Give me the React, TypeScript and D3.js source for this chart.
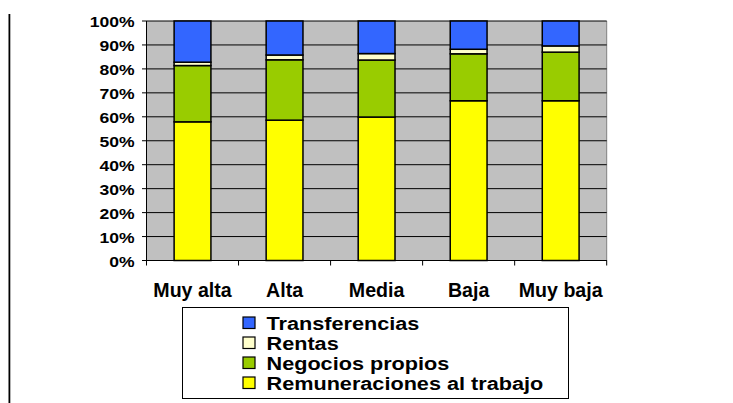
import React from "react";
import * as d3 from "d3";

const categories = ["Muy alta", "Alta", "Media", "Baja", "Muy baja"];
const remuneraciones = [57.9, 58.6, 59.9, 66.7, 66.7];
const negocios = [23.5, 25.2, 23.8, 19.6, 20.3];
const rentas = [1.4, 2.0, 2.7, 1.9, 2.6];
const transferencias = [17.2, 14.2, 13.6, 11.8, 10.4];
const seriesNames = ["Remuneraciones al trabajo", "Negocios propios", "Rentas", "Transferencias"];
const seriesColors = ["#FFFF00", "#99CC00", "#FFFFCC", "#3366FF"];
const yTicks = [0, 10, 20, 30, 40, 50, 60, 70, 80, 90, 100];

export default function App() {
  const W = 733, H = 403;
  const left = 146.5, right = 606.7, top = 21, bottom = 260.5;
  const x = d3.scaleBand<string>().domain(categories).range([left, right]).paddingInner(0.6).paddingOuter(0.3);
  const xb = d3.scaleBand<string>().domain(categories).range([left, right]);
  const y = d3.scaleLinear().domain([0, 100]).range([bottom, top]);
  const rows = categories.map((c, i) => ({
    cat: c,
    s0: remuneraciones[i], s1: negocios[i], s2: rentas[i], s3: transferencias[i],
  }));
  const stack = d3.stack<any>().keys(["s0", "s1", "s2", "s3"]);
  const stacked = stack(rows);
  const font = "Liberation Sans, Arial, sans-serif";
  const legendOrder = [3, 2, 1, 0];
  return (
    <svg width={W} height={H} style={{ position: "absolute", left: 0, top: 0, background: "#fff" }}>
      <rect x={8.5} y={14} width={1.8} height={H - 14} fill="#000" />
      <rect x={left} y={top} width={right - left} height={bottom - top} fill="#C0C0C0" />
      <line x1={right} x2={right} y1={top} y2={bottom} stroke="#808080" strokeWidth={1} />
      {yTicks.map((t) => (
        <g key={t}>
          <line x1={left - 4.5} x2={right} y1={y(t)} y2={y(t)} stroke="#000" strokeWidth={1} />
          <text
            transform={`translate(134.5,${y(t) + 6}) scale(1.17,1)`}
            textAnchor="end"
            fontFamily={font}
            fontWeight="bold"
            fontSize={15}
          >
            {t}%
          </text>
        </g>
      ))}
      <line x1={left} x2={left} y1={top} y2={bottom} stroke="#000" strokeWidth={1} />
      <line x1={left} x2={right} y1={bottom} y2={bottom} stroke="#000" strokeWidth={1.2} />
      {categories.map((c, i) => (
        <line key={"tk" + i} x1={xb(c)!} x2={xb(c)!} y1={bottom} y2={bottom + 5} stroke="#000" />
      ))}
      <line x1={right} x2={right} y1={bottom} y2={bottom + 5} stroke="#000" />
      {stacked.map((s, si) =>
        s.map((d, i) => (
          <rect
            key={si + "-" + i}
            x={x(categories[i])!}
            width={x.bandwidth()}
            y={y(d[1])}
            height={y(d[0]) - y(d[1])}
            fill={seriesColors[si]}
            stroke="#000"
            strokeWidth={1.5}
          />
        ))
      )}
      {categories.map((c) => (
        <text key={c} x={xb(c)! + xb.bandwidth() / 2} y={296.7} textAnchor="middle" fontFamily={font} fontWeight="bold" fontSize={19.6}>
          {c}
        </text>
      ))}
      <rect x={182.5} y={307.5} width={386} height={91} fill="#fff" stroke="#000" strokeWidth={1} />
      {legendOrder.map((si, k) => (
        <g key={si}>
          <rect x={243} y={317 + k * 20} width={12} height={11.5} fill={seriesColors[si]} stroke="#000" strokeWidth={1.2} />
          <text
            transform={`translate(266.5,${329.5 + k * 20}) scale(1.14,1)`}
            fontFamily={font}
            fontWeight="bold"
            fontSize={19}
          >
            {seriesNames[si]}
          </text>
        </g>
      ))}
    </svg>
  );
}
